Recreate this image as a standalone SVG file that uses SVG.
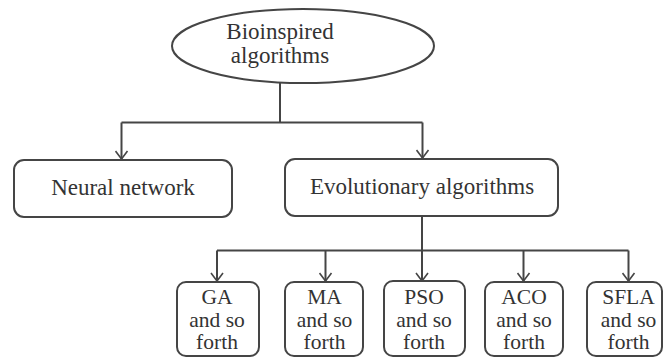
<svg xmlns="http://www.w3.org/2000/svg" width="663" height="358" viewBox="0 0 663 358">
  <style>
    .shape { fill: #ffffff; stroke: #454545; stroke-width: 2; }
    .link { fill: none; stroke: #454545; stroke-width: 2; }
    .label { font-family: "Liberation Serif", "DejaVu Serif", serif; font-size: 23px; fill: #333333; text-anchor: middle; }
    .small { font-size: 21.5px; }
  </style>
  <defs>
    <marker id="arrow" markerUnits="userSpaceOnUse" markerWidth="10" markerHeight="14" viewBox="0 0 10 14" refX="9" refY="7" orient="auto">
      <path d="M1,1 L9,7 L1,13" fill="none" stroke="#454545" stroke-width="1.6"/>
    </marker>
  </defs>
  <rect width="663" height="358" fill="#ffffff"/>

  <!-- connectors -->
  <g id="connectors">
    <path class="link" d="M280,82 V122.5"/>
    <path class="link" d="M121.5,122.5 H422.5"/>
    <path class="link" d="M121.5,122.5 V159" marker-end="url(#arrow)"/>
    <path class="link" d="M422.5,122.5 V158" marker-end="url(#arrow)"/>
    <path class="link" d="M422,216 V250.5"/>
    <path class="link" d="M217,250.5 H628.5"/>
    <path class="link" d="M217,250.5 V281" marker-end="url(#arrow)"/>
    <path class="link" d="M325.5,250.5 V281" marker-end="url(#arrow)"/>
    <path class="link" d="M422,250.5 V281" marker-end="url(#arrow)"/>
    <path class="link" d="M523.5,250.5 V281" marker-end="url(#arrow)"/>
    <path class="link" d="M628.5,250.5 V281" marker-end="url(#arrow)"/>
  </g>

  <!-- root -->
  <g id="bioinspired">
    <ellipse class="shape" cx="303" cy="46" rx="131" ry="37"/>
    <text class="label" x="280" y="39">Bioinspired</text>
    <text class="label" x="280" y="63">algorithms</text>
  </g>

  <!-- second level -->
  <g id="neural-network">
    <rect class="shape" x="14" y="160" width="218" height="57" rx="10"/>
    <text class="label" x="123" y="195">Neural network</text>
  </g>
  <g id="evolutionary-algorithms">
    <rect class="shape" x="285" y="159" width="273" height="57" rx="10"/>
    <text class="label" x="422" y="194">Evolutionary algorithms</text>
  </g>

  <!-- third level -->
  <g id="ga">
    <rect class="shape" x="177" y="282" width="82" height="74" rx="9"/>
    <text class="label small" x="217" y="304">GA</text>
    <text class="label small" x="217" y="326.5">and so</text>
    <text class="label small" x="217" y="349">forth</text>
  </g>
  <g id="ma">
    <rect class="shape" x="285" y="282" width="78" height="74" rx="9"/>
    <text class="label small" x="324.5" y="304">MA</text>
    <text class="label small" x="324.5" y="326.5">and so</text>
    <text class="label small" x="324.5" y="349">forth</text>
  </g>
  <g id="pso">
    <rect class="shape" x="384" y="281" width="81" height="75" rx="9"/>
    <text class="label small" x="424" y="304">PSO</text>
    <text class="label small" x="424" y="326.5">and so</text>
    <text class="label small" x="424" y="349">forth</text>
  </g>
  <g id="aco">
    <rect class="shape" x="485" y="282" width="78" height="74" rx="9"/>
    <text class="label small" x="524" y="304">ACO</text>
    <text class="label small" x="524" y="326.5">and so</text>
    <text class="label small" x="524" y="349">forth</text>
  </g>
  <g id="sfla">
    <rect class="shape" x="587" y="282" width="75" height="74" rx="9"/>
    <text class="label small" x="628.5" y="304">SFLA</text>
    <text class="label small" x="628.5" y="326.5">and so</text>
    <text class="label small" x="628.5" y="349">forth</text>
  </g>
</svg>
